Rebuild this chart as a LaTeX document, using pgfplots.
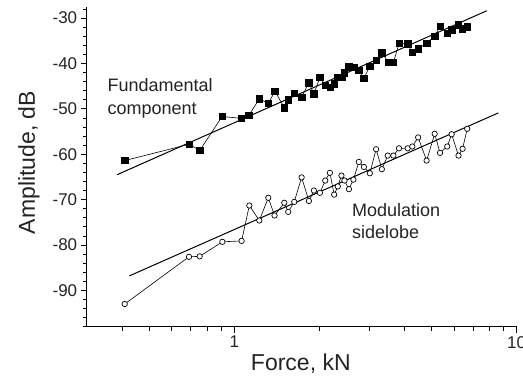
\documentclass[border=0pt]{standalone}
\usepackage{fontspec}
\setmainfont{Liberation Sans}
\usepackage{pgfplots}
\pgfplotsset{compat=1.18}
\definecolor{txt}{RGB}{35,35,35}
\begin{document}
\begin{tikzpicture}
\begin{axis}[
 at={(0,0)}, anchor=south west,
 scale only axis, width=430pt, height=320pt,
 xmode=log, xmin=0.3, xmax=10, ymin=-98, ymax=-27.5,
 axis lines*=left,
 axis line style={line width=0.8pt, black},
 tick align=outside,
 major tick length=6pt, minor tick length=4pt,
 tick style={line width=0.7pt, black},
 xtick={1,10}, xticklabels={1,10},
 minor xtick={0.4,0.5,0.6,0.7,0.8,0.9,2,3,4,5,6,7,8,9},
 ytick={-90,-80,-70,-60,-50,-40,-30},
 yticklabels={-90,-80,-70,-60,-50,-40,-30},
 minor ytick={-98,-96,...,-28},
 ticklabel style={font=\fontsize{17}{17}\selectfont, text=txt},
 xlabel={Force, kN}, ylabel={Amplitude, dB},
 label style={font=\fontsize{23}{23}\selectfont, text=txt},
 xlabel style={at={([yshift=-44pt]axis description cs:0.498,0)}, anchor=base},
 ylabel style={at={([xshift=-51.7pt]axis description cs:0,0.513)}, anchor=base},
 clip=false,
]
\addplot[black, line width=1pt, no marks] coordinates {(0.385,-64.5) (7.83,-28.4)};
\addplot[black, line width=1pt, no marks] coordinates {(0.425,-86.8) (8.61,-50.9)};
\addplot[black, line width=0.6pt, mark=square*, mark size=3.2pt, mark options={solid, fill=black}] table {
0.409 -61.4
0.693 -57.8
0.754 -59.2
0.905 -51.7
1.06 -52.1
1.127 -51.4
1.226 -47.8
1.319 -48.8
1.393 -46.1
1.503 -49.8
1.552 -48.0
1.630 -46.6
1.731 -47.4
1.837 -44.3
1.914 -46.7
2.009 -43.1
2.099 -44.8
2.186 -45.2
2.262 -44.5
2.325 -43.1
2.402 -43.0
2.455 -42.1
2.546 -40.7
2.656 -40.9
2.760 -41.5
2.876 -43.3
3.019 -40.6
3.178 -39.3
3.330 -37.7
3.523 -39.8
3.659 -39.8
3.831 -35.6
4.110 -35.7
4.268 -37.6
4.477 -36.8
4.797 -35.5
5.123 -34.0
5.353 -31.8
5.675 -33.3
5.883 -32.6
6.222 -31.5
6.432 -32.4
6.68 -31.9
};
\addplot[black, line width=0.6pt, mark=*, mark size=2.7pt, mark options={solid, fill=white, draw=black, line width=0.7pt}] table {
0.409 -93.0
0.691 -82.6
0.754 -82.5
0.907 -79.3
1.061 -79.1
1.130 -71.3
1.226 -74.6
1.319 -69.6
1.388 -73.5
1.503 -70.7
1.552 -72.7
1.630 -70.5
1.731 -65.1
1.837 -70.3
1.914 -68.0
2.009 -68.5
2.099 -65.8
2.180 -64.1
2.257 -68.9
2.325 -67.1
2.395 -64.7
2.455 -65.8
2.546 -67.7
2.641 -65.6
2.760 -61.7
2.876 -62.8
3.019 -64.2
3.178 -58.9
3.330 -63.3
3.494 -60.3
3.659 -60.3
3.831 -58.7
4.110 -58.7
4.268 -58.3
4.477 -56.3
4.797 -61.4
5.123 -55.5
5.353 -59.7
5.675 -58.3
5.883 -55.6
6.222 -60.3
6.432 -58.8
6.68 -54.4
};
\node[anchor=base west, font=\fontsize{18}{18}\selectfont, text=txt, inner sep=0pt] at (axis cs:0.355,-46.2) {Fundamental};
\node[anchor=base west, font=\fontsize{18}{18}\selectfont, text=txt, inner sep=0pt] at (axis cs:0.355,-51.3) {component};
\node[anchor=base west, font=\fontsize{18}{18}\selectfont, text=txt, inner sep=0pt] at (axis cs:2.608,-73.7) {Modulation};
\node[anchor=base west, font=\fontsize{18}{18}\selectfont, text=txt, inner sep=0pt] at (axis cs:2.608,-78.5) {sidelobe};
\end{axis}
\pgfresetboundingbox
\useasboundingbox (-86.7pt,-51.3pt) rectangle (436.3pt,326.7pt);
\end{tikzpicture}
\end{document}
